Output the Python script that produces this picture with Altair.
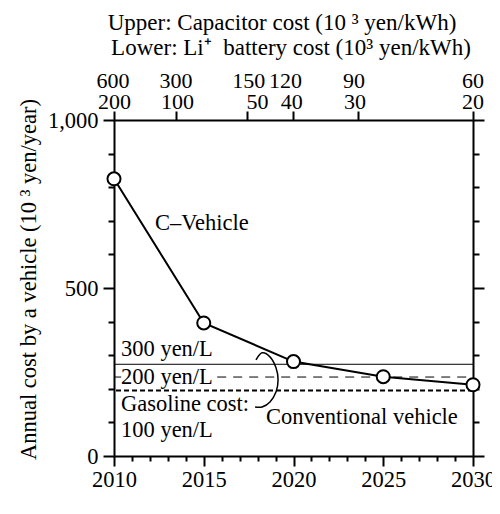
import altair as alt
import pandas as pd

FONT = "Liberation Serif"
FS = 22.5

# ---- data ----
years = [2010, 2015, 2020, 2025, 2030]
c_vehicle_cost = [825, 396, 281, 236, 212]

gas_300 = [273]
gas_200_start = [2010, 2015.75]
gas_200_end = [2010.4, 2030]
gas_200 = [235, 235]
gas_100 = [195]

label_texts = ["300 yen/L", "200 yen/L", "Gasoline cost:", "100 yen/L", "Conventional vehicle", "C\u2013Vehicle"]
label_x = [2010.39, 2010.39, 2010.39, 2010.39, 2018.47, 2012.28]
label_y = [298, 215, 133, 57, 94, 672]

brace_x = [2017.91, 2018.25, 2018.69, 2019.03, 2019.14, 2019.03, 2018.69, 2018.25, 2017.86]
brace_y = [286, 307, 295, 262, 227, 191, 161, 146, 146]

top_tick_years = [2010, 2013.45, 2017.39, 2019.99, 2023.58, 2030]
capacitor_labels = ["600", "300", "150", "120", "90", "60"]
capacitor_label_years = [2009.94, 2013.45, 2017.5, 2019.55, 2023.37, 2030]
battery_labels = ["200", "100", "50", "40", "30", "20"]
battery_label_years = [2010.03, 2013.54, 2018.0, 2019.9, 2023.43, 2030]

title_upper = "Upper: Capacitor cost (10 \u00b3 yen/kWh)"
title_lower = "Lower: Li\u207a\u2002battery cost (10\u00b3 yen/kWh)"
x_title = "Year"
y_title = "Annual cost by a vehicle (10 \u00b3 yen/year)"

x_ticks = list(range(2010, 2031))
y_ticks = list(range(0, 1001, 100))

# ---- tables ----
cv = pd.DataFrame({"year": years, "cost": c_vehicle_cost})
labels = pd.DataFrame({"t": label_texts, "x": label_x, "y": label_y})
brace = pd.DataFrame({"x": brace_x, "y": brace_y, "o": list(range(len(brace_x)))})
cap = pd.DataFrame({"x": capacitor_label_years, "t": capacitor_labels})
bat = pd.DataFrame({"x": battery_label_years, "t": battery_labels})
d200 = pd.DataFrame({"x": gas_200_start, "x2": gas_200_end, "v": gas_200})

xs = alt.Scale(domain=[2010, 2030], nice=False, zero=False)
ys = alt.Scale(domain=[0, 1000], nice=False)

common_axis = dict(
    domainColor="black", domainWidth=2, tickColor="black", tickWidth=2,
    labelColor="black", labelFont=FONT, labelFontSize=FS,
    titleFont=FONT, titleFontSize=FS, titleFontWeight="normal", titleColor="black",
    grid=False,
)

x_bottom = alt.Axis(
    values=x_ticks, format="d",
    labelExpr="datum.value % 5 === 0 ? datum.label : ''",
    tickSize={"condition": {"test": "datum.value % 5 === 0", "value": 10}, "value": 5},
    labelPadding=2, labelFlush=False, labelOverlap=False,
    title=x_title, titleX=183, titleY=384, titleBaseline="alphabetic", titleAlign="center",
    **common_axis,
)
y_left = alt.Axis(
    values=y_ticks, format=",d",
    labelExpr="datum.value % 500 === 0 ? datum.label : ''",
    tickSize={"condition": {"test": "datum.value % 500 === 0", "value": 11}, "value": 6},
    labelPadding=5, labelFlush=False, labelOverlap=False,
    title=y_title, titleX=-86, titleY=159, titleBaseline="middle", titleAngle=270, titleAlign="center",
    **common_axis,
)
x_top = alt.Axis(orient="top", values=top_tick_years, labels=False, tickSize=9, title=None, **common_axis)
y_right = alt.Axis(
    orient="right", values=y_ticks, labels=False, title=None,
    tickSize={"condition": {"test": "datum.value % 500 === 0", "value": 11}, "value": 6},
    **common_axis,
)

line = alt.Chart(cv).mark_line(color="black", strokeWidth=2).encode(
    x=alt.X("year:Q", scale=xs, axis=x_bottom),
    y=alt.Y("cost:Q", scale=ys, axis=y_left),
)

r300 = alt.Chart(pd.DataFrame({"v": gas_300})).mark_rule(color="black", strokeWidth=1).encode(
    y=alt.Y("v:Q", scale=ys, axis=None)
)
r200 = alt.Chart(d200).mark_rule(color="black", strokeWidth=1, strokeDash=[9, 7]).encode(
    x=alt.X("x:Q", scale=xs, axis=None), x2="x2:Q", y=alt.Y("v:Q", scale=ys, axis=None)
)
r100 = alt.Chart(pd.DataFrame({"v": gas_100})).mark_rule(color="black", strokeWidth=2, strokeDash=[5, 3]).encode(
    y=alt.Y("v:Q", scale=ys, axis=None)
)

brace_line = alt.Chart(brace).mark_line(color="black", strokeWidth=1.5, interpolate="cardinal").encode(
    x=alt.X("x:Q", scale=xs, axis=None), y=alt.Y("y:Q", scale=ys, axis=None), order="o:Q"
)

points = alt.Chart(cv).mark_point(
    shape="circle", filled=True, fill="white", stroke="black", strokeWidth=2, size=170, opacity=1
).encode(
    x=alt.X("year:Q", scale=xs, axis=x_top),
    y=alt.Y("cost:Q", scale=ys, axis=y_right),
)

texts = alt.Chart(labels).mark_text(
    font=FONT, fontSize=FS, align="left", baseline="alphabetic", color="black"
).encode(
    x=alt.X("x:Q", scale=xs, axis=None), y=alt.Y("y:Q", scale=ys, axis=None), text="t:N"
)

cap_text = alt.Chart(cap).mark_text(
    font=FONT, fontSize=22, align="center", baseline="alphabetic", color="black"
).encode(x=alt.X("x:Q", scale=xs, axis=None), y=alt.value(-32), text="t:N")

bat_text = alt.Chart(bat).mark_text(
    font=FONT, fontSize=22, align="center", baseline="alphabetic", color="black"
).encode(x=alt.X("x:Q", scale=xs, axis=None), y=alt.value(-11.5), text="t:N")

t_up = alt.Chart(pd.DataFrame({"t": [title_upper]})).mark_text(
    font=FONT, fontSize=23, align="center", baseline="alphabetic", color="black"
).encode(x=alt.value(168), y=alt.value(-90.5), text="t:N")

t_low = alt.Chart(pd.DataFrame({"t": [title_lower]})).mark_text(
    font=FONT, fontSize=23, align="center", baseline="alphabetic", color="black"
).encode(x=alt.value(177), y=alt.value(-65.5), text="t:N")

chart = alt.layer(
    r300, r200, r100, brace_line, line, points, texts, cap_text, bat_text, t_up, t_low
).resolve_axis(x="independent", y="independent").properties(
    width=359, height=336,
    autosize=alt.AutoSizeParams(type="none"),
    padding={"left": 106, "top": 112, "right": 19, "bottom": 50},
).configure_view(strokeWidth=0).configure(background="white")

chart.save("out.html", embed_options={"renderer": "svg", "actions": False})
